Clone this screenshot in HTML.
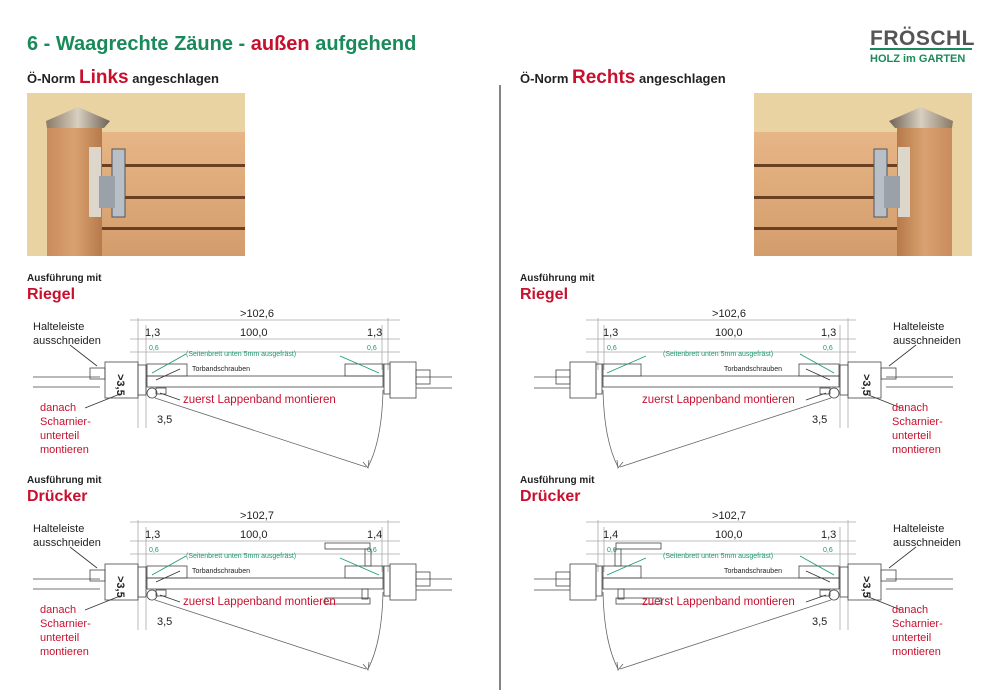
<!DOCTYPE html>
<html><head><meta charset="utf-8"><style>
html,body{margin:0;padding:0;background:#fff;}
svg{display:block;font-family:"Liberation Sans",Arial,sans-serif;}
</style></head><body>
<svg width="1000" height="700" viewBox="0 0 1000 700" xmlns="http://www.w3.org/2000/svg">
<defs>
<linearGradient id="post" x1="0" x2="1"><stop offset="0" stop-color="#c98c5c"/><stop offset=".5" stop-color="#d9a171"/><stop offset="1" stop-color="#b77a4a"/></linearGradient>
<linearGradient id="board" x1="0" y1="0" x2="0" y2="1"><stop offset="0" stop-color="#e7b686"/><stop offset="1" stop-color="#d39c6c"/></linearGradient>
<linearGradient id="cap" x1="0" x2="1"><stop offset="0" stop-color="#8a7a66"/><stop offset=".5" stop-color="#d8cfc0"/><stop offset="1" stop-color="#6e6254"/></linearGradient>
<g id="photo">
 <rect x="27" y="93" width="218" height="163" fill="#e9d3a3"/>
 <rect x="102" y="132" width="143" height="124" fill="url(#board)"/>
 <rect x="102" y="164" width="143" height="3" fill="#6a3f22"/>
 <rect x="102" y="196" width="143" height="3" fill="#6a3f22"/>
 <rect x="102" y="227" width="143" height="3" fill="#6a3f22"/>
 <rect x="47" y="126" width="55" height="130" fill="url(#post)"/>
 <path d="M46 121 L78 107 L110 121 L104 128 L47 128 Z" fill="url(#cap)"/>
 <rect x="89" y="147" width="12" height="70" fill="#ddd6cb"/>
 <rect x="112" y="149" width="13" height="68" fill="#b9bfc6" stroke="#555" stroke-width="1"/>
 <rect x="99" y="176" width="16" height="32" fill="#9aa1a8"/>
</g>
<g id="dia" fill="none" stroke="#444" stroke-width="0.8">
 <line x1="130" y1="320" x2="400" y2="320" stroke="#aaa"/>
 <line x1="130" y1="339" x2="400" y2="339" stroke="#aaa"/>
 <line x1="130" y1="352" x2="400" y2="352" stroke="#aaa"/>
 <line x1="138" y1="318" x2="138" y2="428" stroke="#aaa"/>
 <line x1="146" y1="325" x2="146" y2="428" stroke="#aaa"/>
 <line x1="382" y1="325" x2="382" y2="370" stroke="#aaa"/>
 <line x1="388" y1="318" x2="388" y2="370" stroke="#aaa"/>
 <line x1="33" y1="377" x2="100" y2="377"/>
 <line x1="33" y1="387" x2="100" y2="387"/>
 <rect x="90" y="368" width="15" height="11"/>
 <rect x="105" y="362" width="33" height="36"/>
 <rect x="138" y="365" width="8" height="30"/>
 <rect x="147" y="364" width="40" height="12"/>
 <rect x="147" y="376" width="236" height="11"/>
 <circle cx="152" cy="393" r="5"/>
 <rect x="156" y="388" width="10" height="6"/>
 <rect x="345" y="364" width="38" height="12"/>
 <rect x="384" y="364" width="6" height="30"/>
 <rect x="390" y="362" width="26" height="36"/>
 <rect x="416" y="370" width="14" height="14"/>
 <line x1="416" y1="377" x2="452" y2="377"/>
 <line x1="416" y1="388" x2="452" y2="388"/>
 <line x1="155" y1="398" x2="366" y2="467" stroke="#666"/>
 <path d="M383 390 Q382 440 368 467" stroke="#666"/>
 <path d="M363 462 L368 468 L369 460" stroke="#666"/>
 <line x1="70" y1="345" x2="97" y2="366" stroke="#333"/>
 <line x1="85" y1="408" x2="120" y2="394" stroke="#333"/>
 <line x1="160" y1="393" x2="180" y2="400" stroke="#333"/>
 <line x1="180" y1="369" x2="156" y2="380" stroke="#333"/>
 <line x1="186" y1="354" x2="152" y2="373" stroke="#1a9a6a"/>
 <line x1="340" y1="356" x2="379" y2="373" stroke="#1a9a6a"/>
</g>
<g id="handle" fill="none" stroke="#444" stroke-width="0.8">
 <rect x="325" y="543" width="45" height="6"/>
 <rect x="365" y="549" width="6" height="17"/>
 <rect x="325" y="598" width="45" height="6"/>
 <rect x="362" y="589" width="6" height="10"/>
</g>
</defs>

<text x="27" y="50" font-size="20" font-weight="bold" fill="#1a8a5a">6 - Waagrechte Zäune - <tspan fill="#c8102e">außen</tspan> aufgehend</text>
<text x="870" y="45" font-size="21" font-weight="bold" fill="#555" letter-spacing="0.5">FRÖSCHL</text>
<rect x="870" y="48" width="102" height="2" fill="#1a8a5a"/>
<text x="870" y="62" font-size="11" font-weight="bold" fill="#1a8a5a">HOLZ im GARTEN</text>

<text x="27" y="83" font-size="13" font-weight="bold" fill="#222">Ö-Norm <tspan font-size="19" fill="#c8102e">Links</tspan> angeschlagen</text>
<text x="520" y="83" font-size="13" font-weight="bold" fill="#222">Ö-Norm <tspan font-size="19" fill="#c8102e">Rechts</tspan> angeschlagen</text>
<line x1="500" y1="85" x2="500" y2="690" stroke="#333" stroke-width="1.2"/>

<use href="#photo"/>
<use href="#photo" transform="translate(999,0) scale(-1,1)"/>

<use href="#dia"/>
<use href="#dia" transform="translate(0,202)"/>
<use href="#handle"/>
<use href="#dia" transform="translate(986,0) scale(-1,1)"/>
<use href="#dia" transform="translate(986,202) scale(-1,1)"/>
<use href="#handle" transform="translate(986,0) scale(-1,1)"/>

<g font-size="10" font-weight="bold" fill="#222">
<text x="27" y="281">Ausführung mit</text><text x="520" y="281">Ausführung mit</text>
<text x="27" y="483">Ausführung mit</text><text x="520" y="483">Ausführung mit</text>
</g>
<g font-size="16" font-weight="bold" fill="#c8102e">
<text x="27" y="299">Riegel</text><text x="520" y="299">Riegel</text>
<text x="27" y="501">Drücker</text><text x="520" y="501">Drücker</text>
</g>

<!-- left texts -->
<g font-size="11" fill="#222">
<text x="257" y="317" text-anchor="middle">&gt;102,6</text>
<text x="257" y="519" text-anchor="middle">&gt;102,7</text>
<text x="729" y="317" text-anchor="middle">&gt;102,6</text>
<text x="729" y="519" text-anchor="middle">&gt;102,7</text>
<text x="145" y="336">1,3</text><text x="240" y="336">100,0</text><text x="367" y="336">1,3</text>
<text x="145" y="538">1,3</text><text x="240" y="538">100,0</text><text x="367" y="538">1,4</text>
<text x="603" y="336">1,3</text><text x="715" y="336">100,0</text><text x="821" y="336">1,3</text>
<text x="603" y="538">1,4</text><text x="715" y="538">100,0</text><text x="821" y="538">1,3</text>
<text x="157" y="423">3,5</text><text x="157" y="625">3,5</text>
<text x="812" y="423">3,5</text><text x="812" y="625">3,5</text>
<text x="33" y="330">Halteleiste</text><text x="33" y="344">ausschneiden</text>
<text x="33" y="532">Halteleiste</text><text x="33" y="546">ausschneiden</text>
<text x="893" y="330">Halteleiste</text><text x="893" y="344">ausschneiden</text>
<text x="893" y="532">Halteleiste</text><text x="893" y="546">ausschneiden</text>
</g>
<g font-size="11" font-weight="bold" fill="#222">
<text transform="translate(117,374) rotate(90)">&gt;3,5</text>
<text transform="translate(117,576) rotate(90)">&gt;3,5</text>
<text transform="translate(863,374) rotate(90)">&gt;3,5</text>
<text transform="translate(863,576) rotate(90)">&gt;3,5</text>
</g>
<g font-size="7" fill="#222">
<text x="192" y="371">Torbandschrauben</text><text x="192" y="573">Torbandschrauben</text>
<text x="724" y="371">Torbandschrauben</text><text x="724" y="573">Torbandschrauben</text>
</g>
<g font-size="7" fill="#1a9a6a">
<text x="186" y="356">(Seitenbrett unten 5mm ausgefräst)</text>
<text x="186" y="558">(Seitenbrett unten 5mm ausgefräst)</text>
<text x="663" y="356">(Seitenbrett unten 5mm ausgefräst)</text>
<text x="663" y="558">(Seitenbrett unten 5mm ausgefräst)</text>
<text x="149" y="350">0,6</text><text x="367" y="350">0,6</text>
<text x="149" y="552">0,6</text><text x="367" y="552">0,6</text>
<text x="607" y="350">0,6</text><text x="823" y="350">0,6</text>
<text x="607" y="552">0,6</text><text x="823" y="552">0,6</text>
</g>
<g font-size="11.5" fill="#c8102e">
<text x="183" y="403">zuerst Lappenband montieren</text>
<text x="183" y="605">zuerst Lappenband montieren</text>
<text x="642" y="403">zuerst Lappenband montieren</text>
<text x="642" y="605">zuerst Lappenband montieren</text>
<g font-size="11">
<text x="40" y="411">danach</text><text x="40" y="425">Scharnier-</text><text x="40" y="439">unterteil</text><text x="40" y="453">montieren</text>
<text x="40" y="613">danach</text><text x="40" y="627">Scharnier-</text><text x="40" y="641">unterteil</text><text x="40" y="655">montieren</text>
<text x="892" y="411">danach</text><text x="892" y="425">Scharnier-</text><text x="892" y="439">unterteil</text><text x="892" y="453">montieren</text>
<text x="892" y="613">danach</text><text x="892" y="627">Scharnier-</text><text x="892" y="641">unterteil</text><text x="892" y="655">montieren</text>
</g>
</g>
</svg>
</body></html>
